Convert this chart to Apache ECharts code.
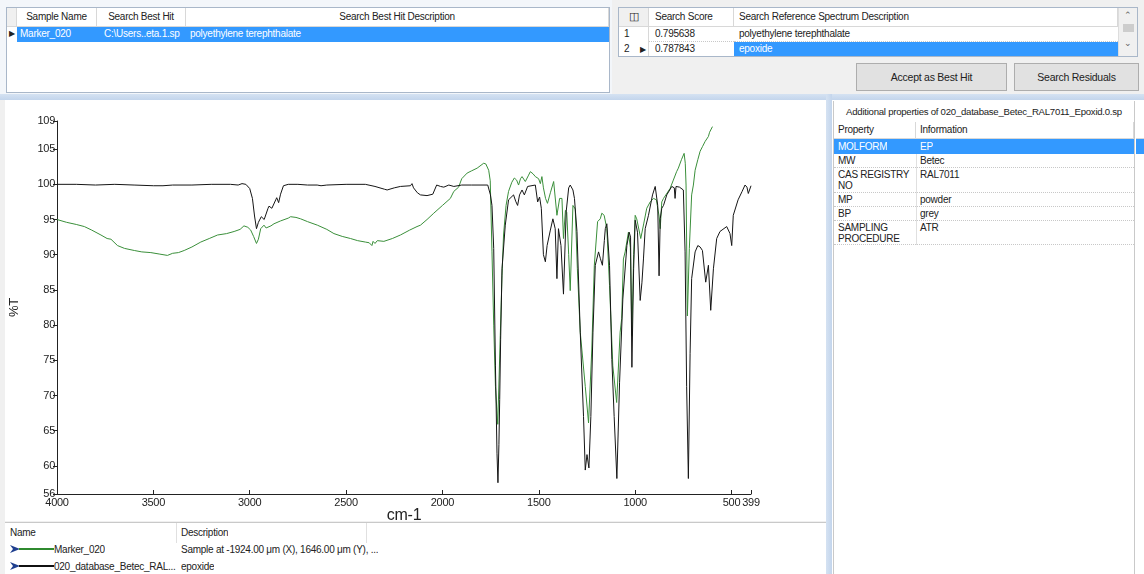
<!DOCTYPE html>
<html><head><meta charset="utf-8">
<script src="https://cdn.jsdelivr.net/npm/echarts@6/dist/echarts.min.js"></script>
<style>
html,body{margin:0;padding:0;width:1144px;height:574px;overflow:hidden;background:#fff;font-family:"Liberation Sans",Arial,sans-serif;font-size:10px;color:#222;letter-spacing:-0.25px}
.abs{position:absolute;box-sizing:border-box}
.panel{position:absolute;background:#fff;box-sizing:border-box}
.hdr{position:absolute;background:#fff;border-right:1px solid #d8d8d8;border-bottom:1px solid #d8d8d8;box-sizing:border-box;line-height:17px;white-space:nowrap;overflow:hidden}
.cell{position:absolute;white-space:nowrap;overflow:hidden;box-sizing:border-box;line-height:14px}
.sel{background:#3399ff;color:#fff}
.btn{position:absolute;background:#e1e1e1;border:1px solid #adadad;box-sizing:border-box;text-align:center;line-height:26px;font-size:10.5px}
.dot{border-bottom:1px dotted #c8c8c8}
</style></head>
<body>
<div class="abs" style="left:0;top:0;width:1144px;height:574px;background:#f0f0f0"></div>
<!-- separators -->
<div class="abs" style="left:0;top:94px;width:1144px;height:6px;background:linear-gradient(#d5e2f2,#c3d5ec)"></div>
<div class="abs" style="left:826px;top:94px;width:6px;height:480px;background:linear-gradient(90deg,#d5e2f2,#c3d5ec)"></div>

<!-- top-left table -->
<div class="panel" style="left:0;top:0;width:612px;height:94px;background:#f3f6fa"></div>
<div class="panel" style="left:6px;top:7px;width:604px;height:86px;border:1px solid #a9b7c9"></div>
<div class="hdr" style="left:7px;top:8px;width:10px;height:19px;background:#f0f0f0"></div>
<div class="hdr" style="left:17px;top:8px;width:80px;height:19px;text-align:center">Sample Name</div>
<div class="hdr" style="left:97px;top:8px;width:89px;height:19px;text-align:center">Search Best Hit</div>
<div class="hdr" style="left:186px;top:8px;width:423px;height:19px;text-align:center">Search Best Hit Description</div>
<div class="cell" style="left:7px;top:27px;width:10px;height:15px;font-size:8px;padding-left:2px">&#9654;</div>
<div class="cell sel" style="left:17px;top:27px;width:592px;height:15px"></div>
<div class="cell" style="left:20px;top:27px;width:76px;color:#fff">Marker_020</div>
<div class="cell" style="left:104px;top:27px;width:80px;color:#fff">C:\Users..eta.1.sp</div>
<div class="cell" style="left:190px;top:27px;width:300px;color:#fff">polyethylene terephthalate</div>

<!-- top-right table -->
<div class="panel" style="left:614px;top:0;width:530px;height:94px;background:#f0f0f0"></div>
<div class="panel" style="left:618px;top:7px;width:520px;height:50px;border:1px solid #a9b7c9"></div>
<div class="hdr" style="left:619px;top:8px;width:30px;height:19px;background:#f0f0f0;text-align:center;font-size:11px">&#9707;</div>
<div class="hdr" style="left:649px;top:8px;width:85px;height:19px;padding-left:6px">Search Score</div>
<div class="hdr" style="left:734px;top:8px;width:384px;height:19px;padding-left:5px">Search Reference Spectrum Description</div>
<div class="cell" style="left:619px;top:27px;width:30px;height:15px;padding-left:5px;background:#fff;border-right:1px solid #d8d8d8">1</div>
<div class="cell dot" style="left:649px;top:27px;width:85px;height:15px;padding-left:6px;background:#fff">0.795638</div>
<div class="cell dot" style="left:734px;top:27px;width:384px;height:15px;padding-left:5px;background:#fff">polyethylene terephthalate</div>
<div class="cell" style="left:619px;top:42px;width:30px;height:14px;padding-left:5px;background:#fff;border-right:1px solid #d8d8d8">2 <span style="font-size:8px;margin-left:8px">&#9654;</span></div>
<div class="cell" style="left:649px;top:42px;width:85px;height:14px;padding-left:6px;background:#fff">0.787843</div>
<div class="cell sel" style="left:734px;top:42px;width:384px;height:14px;padding-left:5px">epoxide</div>
<div class="abs" style="left:1118px;top:8px;width:19px;height:48px;background:#f0f0f0;border-left:1px solid #ddd;text-align:center;font-size:9px;color:#606060;line-height:14px">&#8963;<br><span style="display:inline-block;width:11px;height:8px;background:#cdcdcd"></span><br>&#8964;</div>
<div class="btn" style="left:856px;top:63px;width:151px;height:28px">Accept as Best Hit</div>
<div class="btn" style="left:1014px;top:63px;width:125px;height:28px">Search Residuals</div>

<!-- chart panel -->
<div class="panel" style="left:5px;top:100px;width:821px;height:421px"></div>
<div id="chart" class="abs" style="left:0;top:100px;width:826px;height:424px"></div>

<!-- legend panel -->
<div class="panel" style="left:5px;top:522px;width:821px;height:52px;border-top:1px solid #c9c9c9"></div>
<div class="cell" style="left:10px;top:526px;font-size:10px">Name</div>
<div class="abs" style="left:176px;top:523px;width:1px;height:20px;background:#e0e0e0"></div>
<div class="cell" style="left:181px;top:526px;font-size:10px">Description</div>
<div class="abs" style="left:366px;top:523px;width:1px;height:20px;background:#e0e0e0"></div>
<svg class="abs" style="left:8px;top:544px" width="48" height="30">
 <polygon points="2,1 12,5 2,9 5,5" fill="#1f3f8f"/>
 <line x1="11" y1="5" x2="46" y2="5" stroke="#2f8a2f" stroke-width="2"/>
 <polygon points="2,18 12,22 2,26 5,22" fill="#1f3f8f"/>
 <line x1="11" y1="22" x2="46" y2="22" stroke="#111" stroke-width="2"/>
</svg>
<div class="cell" style="left:54px;top:543px">Marker_020</div>
<div class="cell" style="left:181px;top:543px">Sample at -1924.00 &#956;m (X), 1646.00 &#956;m (Y), ...</div>
<div class="cell" style="left:54px;top:560px;width:122px">020_database_Betec_RAL...</div>
<div class="cell" style="left:181px;top:560px">epoxide</div>

<!-- right properties panel -->
<div class="panel" style="left:832px;top:100px;width:312px;height:474px"></div>
<div class="panel" style="left:833px;top:101px;width:302px;height:473px;border-left:1px solid #c9c9c9;border-right:1px solid #c9c9c9"></div>
<div class="cell" style="left:834px;top:105px;width:300px;text-align:center;line-height:14px;font-size:9.6px">Additional properties of 020_database_Betec_RAL7011_Epoxid.0.sp</div>
<div class="hdr" style="left:834px;top:122px;width:82px;height:17px;padding-left:4px;line-height:16px">Property</div>
<div class="hdr" style="left:916px;top:122px;width:218px;height:17px;padding-left:4px;line-height:16px">Information</div>
<div class="cell sel" style="left:834px;top:139px;width:300px;height:15px"></div>
<div class="cell" style="left:838px;top:139px;color:#fff;line-height:15px">MOLFORM</div>
<div class="cell" style="left:920px;top:139px;color:#fff;line-height:15px">EP</div>
<div class="cell dot" style="left:834px;top:154px;width:300px;height:14px;padding-left:4px">MW<span style="position:absolute;left:86px">Betec</span></div>
<div class="cell dot" style="left:834px;top:168px;width:300px;height:25px;padding-left:4px;line-height:11px;padding-top:1px">CAS REGISTRY<br>NO<span style="position:absolute;left:86px;top:1px">RAL7011</span></div>
<div class="cell dot" style="left:834px;top:193px;width:300px;height:14px;padding-left:4px">MP<span style="position:absolute;left:86px">powder</span></div>
<div class="cell dot" style="left:834px;top:207px;width:300px;height:14px;padding-left:4px">BP<span style="position:absolute;left:86px">grey</span></div>
<div class="cell dot" style="left:834px;top:221px;width:300px;height:24px;padding-left:4px;line-height:11px;padding-top:1px">SAMPLING<br>PROCEDURE<span style="position:absolute;left:86px;top:1px">ATR</span></div>
<div class="abs" style="left:916px;top:154px;width:1px;height:91px;background:#e0e0e0"></div>
<div class="abs" style="left:1136px;top:122px;width:8px;height:17px;background:#fff;border-bottom:1px solid #d8d8d8"></div>
<div class="abs" style="left:1136px;top:139px;width:8px;height:15px;background:#3399ff"></div>
<div class="abs" style="left:1136px;top:154px;width:8px;height:90px;background:#fff"></div>

<script>
// x ticks / y ticks
var xTicks = [4000, 3500, 3000, 2500, 2000, 1500, 1000, 500, 399];
var yTicks = [56, 60, 65, 70, 75, 80, 85, 90, 95, 100, 105, 109];

// Reference spectrum (epoxide), black
var refWn = [4000,3900,3800,3700,3600,3500,3450,3400,3300,3200,3100,3060,3040,3020,3000,2986,2975,2965,2955,2940,2925,2917,2905,2900,2885,2877,2865,2860,2850,2840,2825,2800,2750,2700,2650,2630,2600,2500,2400,2350,2300,2287,2250,2218,2166,2158,2150,2130,2114,2080,2050,2030,2010,1993,1967,1941,1900,1850,1800,1765,1751,1743,1734,1725,1717,1712,1707,1703,1698,1691,1674,1657,1631,1620,1610,1600,1587,1575,1558,1518,1506,1496,1487,1476,1466,1457,1440,1427,1415,1406,1398,1385,1372,1358,1345,1337,1323,1315,1302,1285,1268,1259,1250,1240,1230,1219,1207,1190,1181,1170,1160,1155,1147,1133,1121,1109,1095,1081,1064,1043,1031,1024,1017,1008,1000,988,974,965,957,948,931,910,896,883,876,870,862,853,836,810,797,793,788,770,750,741,733,724,715,707,689,675,663,655,651,642,634,620,608,594,577,560,525,508,499,491,466,445,430,420,413,404,399];
var refT = [100.0,100.0,99.9,100.0,99.9,99.8,99.8,99.9,99.9,100.0,100.0,99.9,100.1,100.0,99.4,98.0,95.5,93.7,94.6,95.4,95.0,94.9,96.6,96.9,96.6,96.8,97.8,98.1,97.4,98.6,99.8,100.0,100.0,99.9,99.9,99.8,99.9,100.0,100.0,99.7,99.3,99.2,99.5,99.7,99.8,100.1,99.5,98.8,98.5,98.4,98.6,99.9,99.7,99.6,99.9,99.7,99.9,99.9,99.9,99.9,98.5,97.0,90.9,74.2,61.8,57.6,63.0,69.4,78.0,88.0,94.2,97.8,98.5,97.6,97.0,98.5,99.2,98.5,99.7,99.9,97.5,98.2,96.6,90.0,89.0,91.3,93.5,95.1,93.7,86.6,93.7,91.3,84.4,96.1,99.5,99.9,99.2,98.0,93.3,79.0,67.0,59.4,61.6,59.7,67.0,79.0,88.5,90.4,89.5,88.5,92.0,93.7,94.4,88.5,75.1,67.0,58.2,71.8,83.7,91.3,93.2,92.5,74.0,88.0,94.9,93.2,83.5,86.0,89.4,93.7,95.6,98.5,99.7,97.0,87.0,95.1,96.6,97.0,98.5,99.7,99.5,98.0,99.7,99.6,99.2,90.4,71.3,58.2,76.0,86.6,90.4,91.3,91.1,91.1,90.6,90.4,86.1,88.5,82.1,88.0,92.3,93.3,94.0,93.0,91.3,95.6,97.8,99.0,99.9,99.6,98.7,98.7,99.8];

// Sample spectrum (Marker_020), green
var sampleWn = [4000,3950,3900,3858,3820,3772,3740,3720,3686,3650,3599,3560,3513,3470,3427,3400,3370,3340,3300,3254,3210,3167,3120,3081,3050,3030,3010,2995,2980,2965,2955,2943,2926,2915,2908,2890,2874,2840,2800,2788,2760,2736,2700,2649,2600,2563,2520,2477,2440,2400,2380,2366,2360,2350,2338,2330,2304,2260,2218,2170,2132,2114,2080,2045,2000,1959,1941,1916,1900,1872,1850,1820,1786,1775,1760,1752,1743,1734,1725,1713,1700,1691,1683,1670,1657,1640,1627,1615,1605,1595,1587,1570,1555,1544,1530,1518,1501,1492,1484,1476,1465,1455,1440,1423,1406,1392,1380,1372,1362,1355,1345,1337,1323,1311,1300,1285,1259,1242,1238,1225,1212,1195,1181,1173,1161,1147,1133,1116,1096,1078,1070,1061,1052,1035,1025,1017,1008,1000,992,971,955,940,922,905,890,876,870,862,853,845,819,802,785,776,760,746,740,736,729,719,707,698,689,675,663,650,640,637,629,620,614,611,605,599];
var sampleT = [95.0,94.6,94.3,94.0,93.5,92.8,92.3,92.2,91.3,90.9,90.6,90.4,90.3,90.1,89.9,90.2,90.3,90.6,91.1,91.8,92.3,92.8,93.0,93.3,93.6,94.1,93.9,93.5,92.6,91.6,92.2,93.7,94.2,93.8,93.6,94.1,94.4,94.8,95.2,95.4,95.3,95.1,94.7,94.2,93.6,93.0,92.6,92.3,92.0,91.8,91.7,91.3,91.9,91.6,92.0,91.8,91.9,92.3,92.8,93.5,94.0,94.2,95.0,95.9,97.0,98.0,99.0,99.6,100.8,101.6,101.9,102.3,103.0,102.9,102.0,100.5,90.4,80.0,71.3,65.9,78.5,87.0,92.8,97.0,99.0,100.3,100.9,100.6,99.9,100.8,101.1,100.4,101.2,101.8,101.5,101.1,100.8,100.1,101.1,99.5,98.0,97.3,98.8,100.4,95.6,98.0,98.0,92.3,96.3,96.0,90.0,84.9,97.0,96.5,88.0,79.0,71.3,66.1,65.9,76.6,88.5,94.7,95.1,95.9,95.6,93.7,85.6,74.2,69.0,79.0,80.9,89.4,90.4,93.2,91.0,78.5,90.0,95.6,95.1,92.3,94.5,96.6,97.5,98.0,97.8,95.5,93.7,97.5,98.0,98.0,99.4,100.6,101.8,102.3,103.5,104.4,103.0,99.9,81.3,90.9,98.5,99.9,102.0,103.5,104.7,105.4,105.6,106.1,106.3,106.8,107.4,107.2,107.6,108.2];

function pairs(xs, ys){ var out=[]; for(var i=0;i<xs.length;i++){ out.push([xs[i], ys[i]]); } return out; }
function plain(v){ return String(v); }

var chart = echarts.init(document.getElementById('chart'), null, {renderer:'canvas'});
chart.setOption({
  animation:false,
  backgroundColor:'transparent',
  grid:{left:57, right:75, top:21, bottom:30, outerBoundsMode:'none'},
  xAxis:{
    type:'value', inverse:true, min:399, max:4000,
    name:'cm-1', nameLocation:'middle', nameGap:14, nameMoveOverlap:false,
    nameTextStyle:{fontSize:16, color:'#222', fontFamily:'Liberation Sans', verticalAlign:'top'},
    axisLine:{lineStyle:{color:'#222', width:1}},
    axisTick:{inside:true, length:4, customValues:xTicks, lineStyle:{color:'#222'}},
    axisLabel:{customValues:xTicks, formatter:plain, fontSize:11, color:'#222', margin:3, fontFamily:'Liberation Sans'},
    splitLine:{show:false}
  },
  yAxis:{
    type:'value', min:56, max:109,
    name:'%T', nameLocation:'middle', nameGap:36, nameRotate:90,
    nameTextStyle:{fontSize:13, color:'#222', fontFamily:'Liberation Sans'},
    axisLine:{show:true, lineStyle:{color:'#222', width:1}},
    axisTick:{show:true, length:4, customValues:yTicks, lineStyle:{color:'#222'}},
    axisLabel:{customValues:yTicks, formatter:plain, fontSize:11, color:'#222', margin:2, fontFamily:'Liberation Sans'},
    splitLine:{show:false}
  },
  series:[
    {name:'Marker_020', type:'line', data:pairs(sampleWn, sampleT), showSymbol:false, symbol:'none',
     lineStyle:{color:'#3a8f3a', width:1}, z:2},
    {name:'020_database_Betec_RAL7011_Epoxid', type:'line', data:pairs(refWn, refT), showSymbol:false, symbol:'none',
     lineStyle:{color:'#151515', width:1}, z:3}
  ]
});
</script>
</body></html>
